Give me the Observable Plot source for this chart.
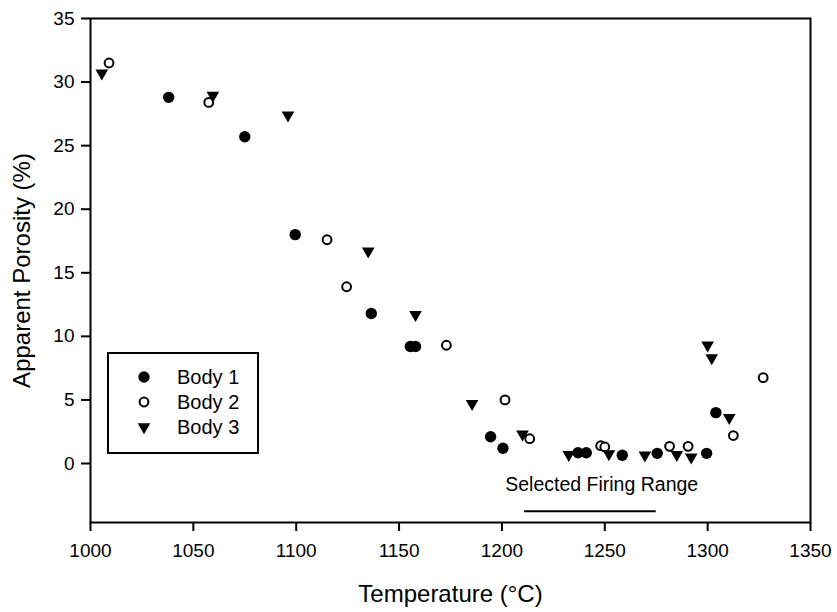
<!DOCTYPE html>
<html>
<head>
<meta charset="utf-8">
<script src="https://cdn.jsdelivr.net/npm/d3@7"></script>
<script src="https://cdn.jsdelivr.net/npm/@observablehq/plot@0.6"></script>
<style>
  body { margin: 0; background: #fff; }
  #wrap { position: relative; width: 837px; height: 612px; font-family: "Liberation Sans", Arial, sans-serif; }
  #legend { position: absolute; left: 0; top: 0; pointer-events: none; }
</style>
</head>
<body>
<div id="wrap"></div>
<script>
// ---- data ----
const seriesNames = ["Body 1", "Body 2", "Body 3"];

const body1Temp = [1038, 1075, 1099.5, 1136.5, 1155.5, 1158, 1194.5, 1200.5, 1237, 1241, 1258.5, 1275.5, 1299.5, 1304];
const body1Por  = [28.8, 25.7, 18.0, 11.8, 9.2, 9.2, 2.1, 1.2, 0.85, 0.85, 0.65, 0.8, 0.8, 4.0];

const body2Temp = [1009, 1057.5, 1115, 1124.5, 1173, 1201.5, 1213.5, 1248, 1250, 1281.5, 1290.5, 1312.5, 1327];
const body2Por  = [31.5, 28.4, 17.6, 13.9, 9.3, 5.0, 1.95, 1.4, 1.3, 1.35, 1.35, 2.2, 6.75];

const body3Temp = [1005.5, 1059.5, 1096, 1135, 1158, 1185.5, 1210, 1232.5, 1252, 1269.5, 1285, 1292, 1300, 1302, 1310.5];
const body3Por  = [30.7, 28.95, 27.4, 16.7, 11.7, 4.7, 2.3, 0.7, 0.75, 0.65, 0.7, 0.5, 9.3, 8.3, 3.6];

const xTicks = [1000, 1050, 1100, 1150, 1200, 1250, 1300, 1350];
const yTicks = [0, 5, 10, 15, 20, 25, 30, 35];

const firingRange = [1211, 1275];
const firingLineLevel = -3.75;
const firingLabel = "Selected Firing Range";
const firingLabelX = 1248.5;
const firingLabelLevel = -1.65;

const xTitle = "Temperature (°C)";
const yTitle = "Apparent Porosity (%)";

// ---- build tables ----
const toRows = (name, xs, ys) => xs.map((t, i) => ({series: name, temp: t, por: ys[i]}));
const rows1 = toRows(seriesNames[0], body1Temp, body1Por);
const rows2 = toRows(seriesNames[1], body2Temp, body2Por);
const rows3 = toRows(seriesNames[2], body3Temp, body3Por);

const font = "'Liberation Sans', Arial, sans-serif";
const R1 = 5.7, R2 = 4.4, R3 = 4.7;

const chart = Plot.plot({
  width: 837,
  height: 612,
  marginLeft: 90,
  marginRight: 27,
  marginTop: 18,
  marginBottom: 90,
  style: { fontFamily: font, fontSize: "19px", color: "#000", background: "#fff", overflow: "visible" },
  x: { domain: [1000, 1350] },
  y: { domain: [-4.64, 35] },
  marks: [
    Plot.axisX({ ticks: xTicks, tickSize: 9, tickPadding: 12, strokeWidth: 2, tickFormat: d => String(d), fontSize: 19, label: null }),
    Plot.axisY({ ticks: yTicks, tickSize: 9, tickPadding: 7, strokeWidth: 2, tickFormat: d => String(d), fontSize: 19, label: null }),
    Plot.frame({ stroke: "#000", strokeWidth: 2 }),
    Plot.text([xTitle], { frameAnchor: "bottom", dy: 72, lineAnchor: "middle", textAnchor: "middle", fontSize: 24, fill: "#000" }),
    Plot.text([yTitle], { frameAnchor: "left", dx: -68, rotate: -90, lineAnchor: "middle", textAnchor: "middle", fontSize: 24, fill: "#000" }),
    // firing range annotation
    Plot.ruleY([firingLineLevel], { x1: firingRange[0], x2: firingRange[1], stroke: "#000", strokeWidth: 2 }),
    Plot.text([firingLabel], { x: firingLabelX, y: firingLabelLevel, fontSize: 19.5, fill: "#000" }),
    // data
    Plot.dot(rows1, { x: "temp", y: "por", r: R1, fill: "#000", stroke: "none" }),
    Plot.dot(rows2, { x: "temp", y: "por", r: R2, fill: "#fff", stroke: "#000", strokeWidth: 2 }),
    Plot.dot(rows3, { x: "temp", y: "por", symbol: "triangle", rotate: 180, r: R3, fill: "#000", stroke: "none" })
  ]
});

const wrap = document.getElementById("wrap");
wrap.appendChild(chart);

// ---- legend (inside the plot area, lower left) ----
const lg = d3.select(wrap).append("svg")
  .attr("id", "legend").attr("width", 837).attr("height", 612);
lg.append("rect").attr("x", 108).attr("y", 353).attr("width", 150).attr("height", 100)
  .attr("fill", "#fff").attr("stroke", "#000").attr("stroke-width", 2);
const symArea = r => r * r * Math.PI;
const legendItems = [
  { name: seriesNames[0], sym: d3.symbolCircle, r: R1, fill: "#000", stroke: "none", sw: 0, rot: 0 },
  { name: seriesNames[1], sym: d3.symbolCircle, r: R2, fill: "#fff", stroke: "#000", sw: 2, rot: 0 },
  { name: seriesNames[2], sym: d3.symbolTriangle, r: R3, fill: "#000", stroke: "none", sw: 0, rot: 180 }
];
legendItems.forEach((it, i) => {
  const cy = 377 + i * 25;
  lg.append("path")
    .attr("d", d3.symbol(it.sym, symArea(it.r))())
    .attr("transform", `translate(144,${cy}) rotate(${it.rot})`)
    .attr("fill", it.fill).attr("stroke", it.stroke).attr("stroke-width", it.sw);
  lg.append("text").attr("x", 177).attr("y", cy).attr("dy", "0.35em")
    .attr("font-family", font).attr("font-size", 20).attr("fill", "#000")
    .text(it.name);
});
</script>
</body>
</html>
